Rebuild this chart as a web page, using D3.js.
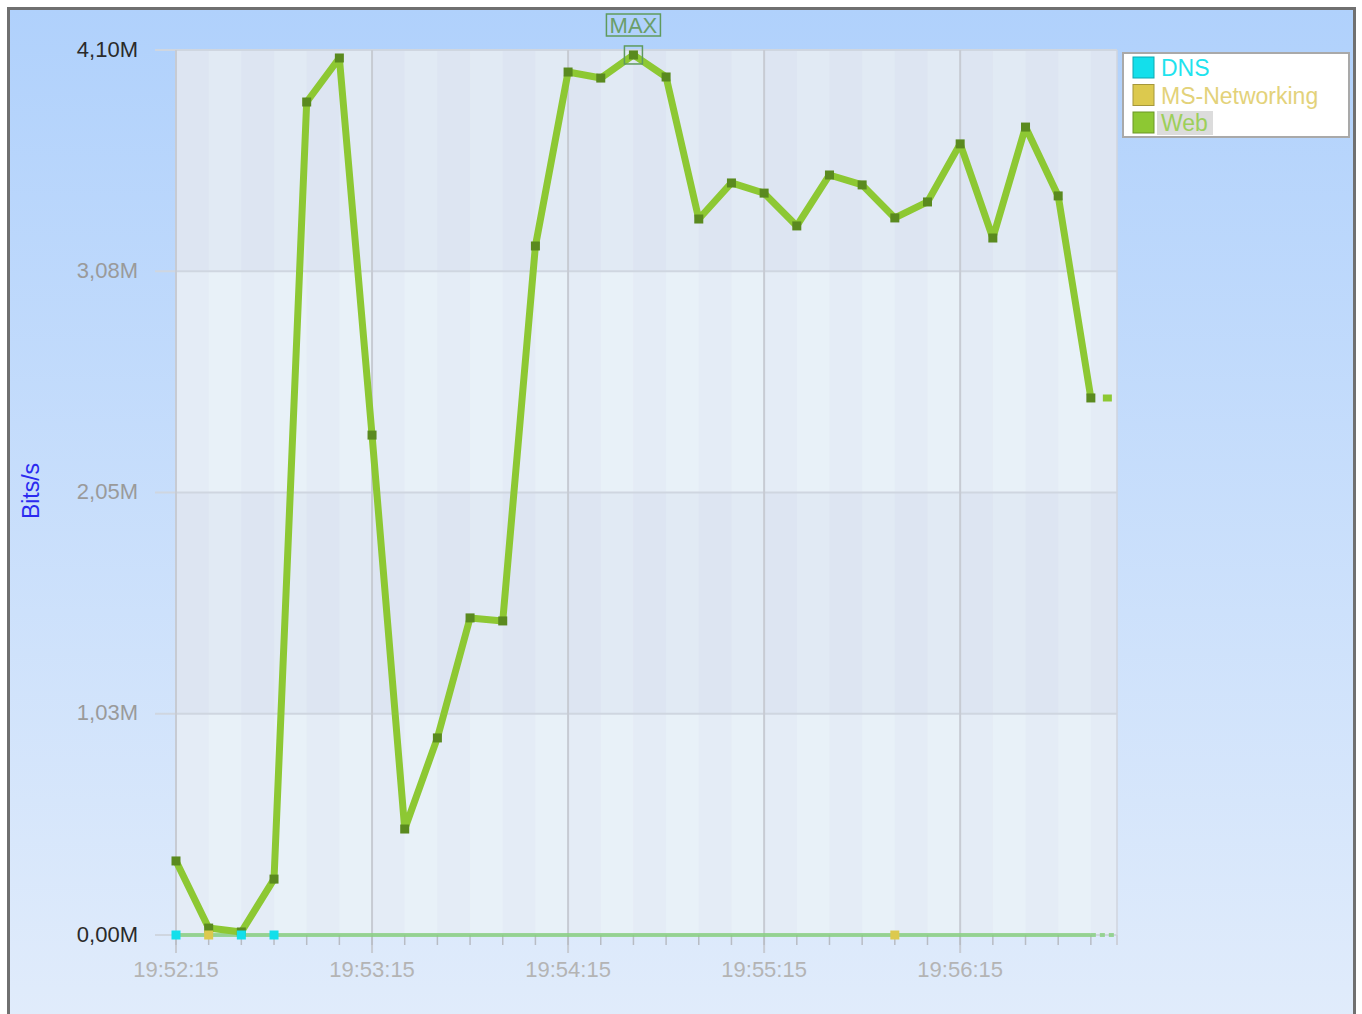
<!DOCTYPE html>
<html>
<head>
<meta charset="utf-8">
<script src="https://cdn.jsdelivr.net/npm/d3@7"></script>
<style>
  body { margin: 0; background: #fff; }
  svg { display: block; font-family: "Liberation Sans", Arial, sans-serif; }
</style>
</head>
<body>
<div class="chart"></div>
<script>
// sample times (every 10 s)
var times = ["19:52:15", "19:52:25", "19:52:35", "19:52:45", "19:52:55", "19:53:05",
  "19:53:15", "19:53:25", "19:53:35", "19:53:45", "19:53:55", "19:54:05",
  "19:54:15", "19:54:25", "19:54:35", "19:54:45", "19:54:55", "19:55:05",
  "19:55:15", "19:55:25", "19:55:35", "19:55:45", "19:55:55", "19:56:05",
  "19:56:15", "19:56:25", "19:56:35", "19:56:45", "19:56:55"];

// Web traffic, Mbit/s
var webValues = [0.343, 0.032, 0.014, 0.259, 3.859, 4.063, 2.316, 0.491, 0.913, 1.469,
  1.455, 3.192, 3.998, 3.970, 4.077, 3.975, 3.317, 3.484, 3.437, 3.285,
  3.521, 3.475, 3.322, 3.396, 3.665, 3.229, 3.743, 3.424, 2.488];

// DNS and MS-Networking only show a few samples, all near zero
var dnsValues = [0, null, 0, 0, null, null, null, null, null, null, null, null, null, null, null,
  null, null, null, null, null, null, null, null, null, null, null, null, null, null];
var msValues = [null, 0, null, null, null, null, null, null, null, null, null, null, null, null, null,
  null, null, null, null, null, null, null, 0, null, null, null, null, null, null];

var seriesNames = ["DNS", "MS-Networking", "Web"];
var seriesColors = ["#13dfeb", "#dcc94e", "#8dc833"];
var legendTextColors = ["#1fe3ee", "#e3d27a", "#9ccf5a"];

var yTickValues = [0, 1.025, 2.05, 3.075, 4.10];
var yTickLabels = ["0,00M", "1,03M", "2,05M", "3,08M", "4,10M"];
var xEndTime = "19:57:03";

var svgWidth = 1362;
var svgHeight = 1014;

var plot = { left: 176, top: 50, right: 1117, bottom: 935 };

var parseTime = d3.timeParse("%H:%M:%S");
var data = times.map(function(t, i) {
  return { time: parseTime(t), web: webValues[i], dns: dnsValues[i], ms: msValues[i] };
});

var svg = d3.select(".chart")
  .append("svg")
  .attr("width", svgWidth)
  .attr("height", svgHeight);

var defs = svg.append("defs");
var grad = defs.append("linearGradient")
  .attr("id", "bg")
  .attr("x1", 0).attr("y1", 0).attr("x2", 0).attr("y2", 1);
grad.append("stop").attr("offset", "0%").attr("stop-color", "#b0d1fc");
grad.append("stop").attr("offset", "100%").attr("stop-color", "#e1ecfb");

// outer frame
svg.append("rect")
  .attr("x", 8.5).attr("y", 8.5)
  .attr("width", 1346).attr("height", 1020)
  .attr("fill", "url(#bg)")
  .attr("stroke", "#707070")
  .attr("stroke-width", 3);

var startTime = data[0].time;
var endTime = parseTime(xEndTime);

var x = d3.scaleTime()
  .domain([startTime, endTime])
  .range([plot.left, plot.right]);

var y = d3.scaleLinear()
  .domain([0, 4.10])
  .range([plot.bottom, plot.top]);

// plot background
svg.append("rect")
  .attr("x", plot.left).attr("y", plot.top)
  .attr("width", plot.right - plot.left).attr("height", plot.bottom - plot.top)
  .attr("fill", "#e4edf7");

// vertical stripes every 10 s, aligned with the samples
var stripeTimes = d3.range(0, 29).map(k => d3.timeSecond.offset(startTime, k * 10));
svg.append("g").selectAll("rect")
  .data(stripeTimes)
  .enter()
  .append("rect")
  .attr("x", d => x(d))
  .attr("y", plot.top)
  .attr("width", d => Math.min(x(d3.timeSecond.offset(d, 10)), plot.right) - x(d))
  .attr("height", plot.bottom - plot.top)
  .attr("fill", (d, i) => i % 2 === 0 ? "#d9dff0" : "#e8f4f8")
  .attr("opacity", 0.35);

// horizontal bands
var bands = d3.range(yTickValues.length - 1);
svg.append("g").selectAll("rect")
  .data(bands)
  .enter()
  .append("rect")
  .attr("x", plot.left)
  .attr("y", i => y(yTickValues[i + 1]))
  .attr("width", plot.right - plot.left)
  .attr("height", i => y(yTickValues[i]) - y(yTickValues[i + 1]))
  .attr("fill", i => i % 2 === 0 ? "#eef6fa" : "#d6deec")
  .attr("opacity", 0.3);

// horizontal grid + y ticks
svg.append("g").selectAll("line")
  .data(yTickValues)
  .enter()
  .append("line")
  .attr("x1", 155).attr("x2", plot.right)
  .attr("y1", d => y(d)).attr("y2", d => y(d))
  .attr("stroke", "#cfd6e0")
  .attr("stroke-width", 2);

// vertical grid at each minute
var minuteTicks = d3.range(0, 5).map(k => d3.timeMinute.offset(startTime, k));
svg.append("g").selectAll("line")
  .data(minuteTicks)
  .enter()
  .append("line")
  .attr("x1", d => x(d)).attr("x2", d => x(d))
  .attr("y1", plot.top).attr("y2", 953)
  .attr("stroke", "#c7cbd3")
  .attr("stroke-width", 2);

// minor x ticks every 10 s
var minorTicks = stripeTimes.concat([endTime]);
svg.append("g").selectAll("line")
  .data(minorTicks)
  .enter()
  .append("line")
  .attr("x1", d => x(d)).attr("x2", d => x(d))
  .attr("y1", plot.bottom).attr("y2", 945)
  .attr("stroke", "#b8bcc4")
  .attr("stroke-width", 1.5);

// right edge line
svg.append("line")
  .attr("x1", plot.right).attr("x2", plot.right)
  .attr("y1", plot.top).attr("y2", 945)
  .attr("stroke", "#d0d5de")
  .attr("stroke-width", 1.5);

// y tick labels
svg.append("g").selectAll("text")
  .data(yTickValues)
  .enter()
  .append("text")
  .attr("x", 138)
  .attr("y", d => y(d) - 1)
  .attr("dy", "0.35em")
  .attr("text-anchor", "end")
  .attr("font-size", "22px")
  .attr("fill", (d, i) => (i === 0 || i === yTickValues.length - 1) ? "#2a2a2a" : "#9a9a9a")
  .text((d, i) => yTickLabels[i]);

// x tick labels
var timeFormat = d3.timeFormat("%H:%M:%S");
svg.append("g").selectAll("text")
  .data(minuteTicks)
  .enter()
  .append("text")
  .attr("x", d => x(d))
  .attr("y", 977)
  .attr("text-anchor", "middle")
  .attr("font-size", "22px")
  .attr("fill", "#b4b4b4")
  .text(d => timeFormat(d));

// y axis title
svg.append("text")
  .attr("transform", "translate(39, 491) rotate(-90)")
  .attr("text-anchor", "middle")
  .attr("font-size", "23px")
  .attr("fill", "#2a2af0")
  .text("Bits/s");

// zero baseline of the small series
var lastTime = data[data.length - 1].time;
svg.append("line")
  .attr("x1", x(startTime)).attr("x2", x(lastTime))
  .attr("y1", y(0)).attr("y2", y(0))
  .attr("stroke", "#86d07e")
  .attr("stroke-opacity", 0.8)
  .attr("stroke-width", 4);
svg.append("line")
  .attr("x1", x(lastTime)).attr("x2", plot.right)
  .attr("y1", y(0)).attr("y2", y(0))
  .attr("stroke", "#86d07e")
  .attr("stroke-opacity", 0.8)
  .attr("stroke-width", 4)
  .attr("stroke-dasharray", "5,4");

// Web line
var webLine = d3.line()
  .x(d => x(d.time))
  .y(d => y(d.web));

svg.append("path")
  .datum(data)
  .attr("d", webLine)
  .attr("fill", "none")
  .attr("stroke", seriesColors[2])
  .attr("stroke-width", 7)
  .attr("stroke-linejoin", "round");

// dashed tail to the right edge
svg.append("line")
  .attr("x1", x(lastTime)).attr("x2", plot.right)
  .attr("y1", y(webValues[webValues.length - 1])).attr("y2", y(webValues[webValues.length - 1]))
  .attr("stroke", seriesColors[2])
  .attr("stroke-width", 7)
  .attr("stroke-dasharray", "0,12,9,20");

// Web markers
svg.append("g").selectAll("rect")
  .data(data)
  .enter()
  .append("rect")
  .attr("x", d => x(d.time) - 4.5)
  .attr("y", d => y(d.web) - 4.5)
  .attr("width", 9).attr("height", 9)
  .attr("fill", "#5a8a1f");

// DNS markers
svg.append("g").selectAll("rect")
  .data(data.filter(d => d.dns !== null))
  .enter()
  .append("rect")
  .attr("x", d => x(d.time) - 4.5)
  .attr("y", d => y(d.dns) - 4.5)
  .attr("width", 9).attr("height", 9)
  .attr("fill", seriesColors[0]);

// MS-Networking markers
svg.append("g").selectAll("rect")
  .data(data.filter(d => d.ms !== null))
  .enter()
  .append("rect")
  .attr("x", d => x(d.time) - 4.5)
  .attr("y", d => y(d.ms) - 4.5)
  .attr("width", 9).attr("height", 9)
  .attr("fill", seriesColors[1]);

// MAX marker
var maxPoint = data.reduce((a, b) => b.web > a.web ? b : a);
var mx = x(maxPoint.time), my = y(maxPoint.web);
svg.append("rect")
  .attr("x", mx - 9).attr("y", my - 9)
  .attr("width", 18).attr("height", 18)
  .attr("fill", "none")
  .attr("stroke", "#5f9a5c")
  .attr("stroke-width", 1.5);
svg.append("rect")
  .attr("x", mx - 27).attr("y", 14)
  .attr("width", 54).attr("height", 22)
  .attr("fill", "none")
  .attr("stroke", "#5f9a5c")
  .attr("stroke-width", 1.5);
svg.append("text")
  .attr("x", mx)
  .attr("y", 33)
  .attr("text-anchor", "middle")
  .attr("font-size", "22px")
  .attr("fill", "#6a9e6a")
  .text("MAX");

// legend
var legend = svg.append("g");
legend.append("rect")
  .attr("x", 1123).attr("y", 53)
  .attr("width", 226).attr("height", 84)
  .attr("fill", "#fff")
  .attr("stroke", "#a9a9a9")
  .attr("stroke-width", 2);

// grey highlight behind the Web entry
legend.append("rect")
  .attr("x", 1157).attr("y", 111)
  .attr("width", 56).attr("height", 24)
  .attr("fill", "#dcdcdc");

var legendItems = legend.selectAll(".item")
  .data(seriesNames)
  .enter()
  .append("g")
  .attr("transform", (d, i) => `translate(1133, ${57 + i * 27.5})`);

legendItems.append("rect")
  .attr("width", 21).attr("height", 21)
  .attr("fill", (d, i) => seriesColors[i])
  .attr("stroke", (d, i) => d3.color(seriesColors[i]).darker(0.8))
  .attr("stroke-width", 1);

legendItems.append("text")
  .attr("x", 28)
  .attr("y", 19)
  .attr("font-size", "23px")
  .attr("fill", (d, i) => legendTextColors[i])
  .text(d => d);
</script>
</body>
</html>
